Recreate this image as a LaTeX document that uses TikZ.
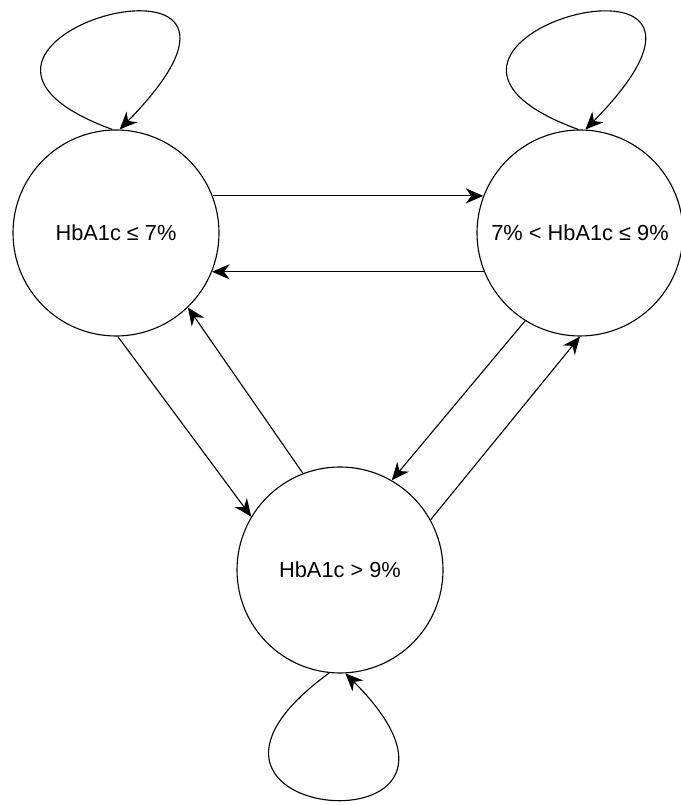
\documentclass[tikz,border=0pt]{standalone}
\usepackage{fontspec}
\setmainfont{Liberation Sans}
\usetikzlibrary{arrows.meta}

\begin{document}
\begin{tikzpicture}[>={Stealth[length=4.4mm,width=3.8mm,inset=1.4mm]}, line width=0.8pt,
    state/.style={circle, draw, minimum size=5.15cm, inner sep=0pt, font=\fontsize{15.5}{18}\selectfont}]
    \useasboundingbox (0,0) rectangle (17,20.125);
    % Draw the states
    \node[state] (low) at (2.9,14.3) {HbA1c ≤ 7\%};
    \node[state] (mid) at (14.5,14.3) {7\% < HbA1c ≤ 9\%};
    \node[state] (high) at (8.5,5.875) {HbA1c > 9\%};
    % Draw the transitions
    \draw[->] (low.21) -- (mid.159);
    \draw[->] (mid.202) -- (low.-22);
    \draw[->] (low.-89) -- (high.149);
    \draw[->] (high.111) -- (low.-46);
    \draw[->] (mid.238) -- (high.60);
    \draw[->] (high.29) -- (mid.-90);
    % Draw the self loops
    \draw[->] (low.92) .. controls +(-6.0,2.2) and +(5.2,5.3) .. (low.88);
    \draw[->] (mid.91) .. controls +(-6.0,2.2) and +(5.2,5.3) .. (mid.87);
    \draw[->] (high.264) .. controls +(-5.2,-3.8) and +(4.6,-4.6) .. (high.273);
\end{tikzpicture}
\end{document}
